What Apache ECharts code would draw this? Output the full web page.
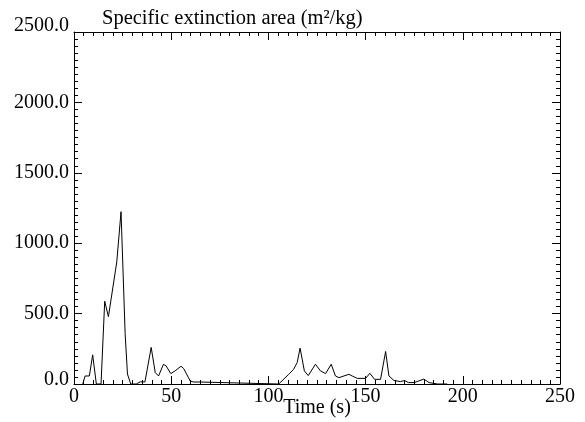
<!DOCTYPE html>
<html>
<head>
<meta charset="utf-8">
<script src="https://cdn.jsdelivr.net/npm/echarts@6/dist/echarts.min.js"></script>
<style>html,body{margin:0;padding:0;background:#fff}#c{width:585px;height:422px}</style>
</head>
<body>
<div id="c"></div>
<script>
const titleText = "Specific extinction area (m²/kg)";
const xName = "Time (s)";
const timeValues = [4.5, 5.7, 7.9, 9.6, 11.5, 13.9, 15.8, 17.7, 22, 24.2, 26.3, 27.5, 29.2, 32, 34, 36.5, 39.7, 41.8, 43.5, 46, 47.4, 49.8, 52, 55, 56.4, 59.8, 61.5, 65, 65.8,
  105.3, 110.5, 113, 114.8, 116.3, 118.5, 120.5, 124.2, 126.8, 129.4, 132.3, 134.5, 136.3, 141.4, 143.1, 145.7, 150, 152.2, 154.6, 157.7, 160.3, 162, 164.6, 168, 170, 172, 175, 180, 182.6, 187, 192];
const seaValues = [0, 57, 57, 207, 0, 0, 588, 478, 867, 1224, 357, 71, 0, 0, 15, 15, 260, 81, 57, 140, 128, 74, 93, 126, 110, 21, 14, 14, 0,
  0, 69, 105, 152, 255, 93, 60, 140, 93, 74, 140, 57, 45, 69, 57, 40, 40, 76, 33, 33, 231, 57, 25, 17, 25, 10, 10, 35, 10, 0, 0];
const xTicks = [0, 50, 100, 150, 200, 250];
const yTicks = [0, 500, 1000, 1500, 2000, 2500];

const pairs = timeValues.map((t, i) => [t, seaValues[i]]);
const font = "'Liberation Serif', 'DejaVu Serif', serif";
const lineStyle = {color: '#000', width: 1};
const fs = 20;

function frameAxis(extra) {
  return Object.assign({
    type: 'value',
    axisLine: {show: true, onZero: false, lineStyle: lineStyle},
    axisTick: {show: true, inside: true, length: 8, lineStyle: lineStyle},
    minorTick: {show: true, splitNumber: 10, length: 4, lineStyle: lineStyle},
    splitLine: {show: false},
    axisLabel: {show: false}
  }, extra);
}

const chart = echarts.init(document.getElementById('c'), null, {renderer: 'canvas'});
chart.setOption({
  animation: false,
  backgroundColor: '#fff',
  title: {
    text: titleText, left: 97, top: 3,
    textStyle: {fontFamily: font, fontSize: 20.5, fontWeight: 'normal', color: '#000'}
  },
  grid: {left: 74, right: 25, top: 32, bottom: 38, outerBoundsMode: 'none', containLabel: false},
  xAxis: [
    frameAxis({
      position: 'bottom', min: xTicks[0], max: xTicks[xTicks.length - 1], interval: 50,
      name: xName, nameLocation: 'middle', nameGap: 14, nameMoveOverlap: false,
      nameTextStyle: {fontFamily: font, fontSize: fs, color: '#000'},
      axisLabel: {show: true, fontFamily: font, fontSize: fs, color: '#000', margin: 3}
    }),
    frameAxis({position: 'top', min: xTicks[0], max: xTicks[xTicks.length - 1], interval: 50})
  ],
  yAxis: [
    frameAxis({
      position: 'left', min: yTicks[0], max: yTicks[yTicks.length - 1], interval: 500,
      axisLabel: {
        show: true, fontFamily: font, fontSize: fs, color: '#000', margin: 5,
        formatter: v => v === 2500 ? '{top|' + v.toFixed(1) + '}' : (v === 0 ? '{bot|' + v.toFixed(1) + '}' : v.toFixed(1)),
        rich: {
          top: {fontFamily: font, fontSize: fs, color: '#000', padding: [0, 0, 13, 0]},
          bot: {fontFamily: font, fontSize: fs, color: '#000', padding: [0, 0, 8, 0]}
        }
      }
    }),
    frameAxis({position: 'right', min: yTicks[0], max: yTicks[yTicks.length - 1], interval: 500})
  ],
  series: [{
    type: 'line', data: pairs, showSymbol: false, symbol: 'none',
    xAxisIndex: 0, yAxisIndex: 0,
    lineStyle: {color: '#000', width: 1}, z: 1
  }]
});
</script>
</body>
</html>
